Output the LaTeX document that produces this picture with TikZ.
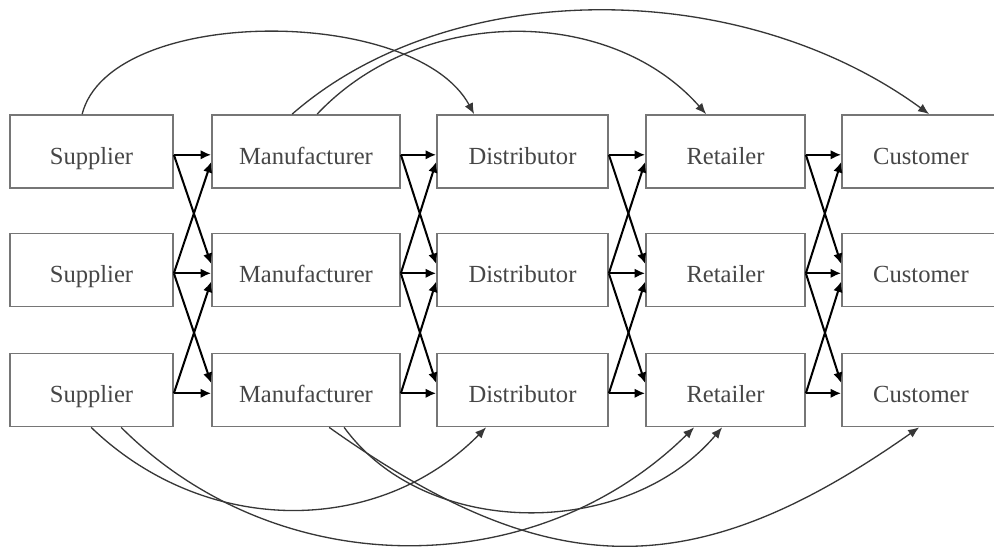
\documentclass[tikz,border=0pt]{standalone}
\usepackage{fontspec}
\setmainfont{Liberation Serif}
\usetikzlibrary{calc,arrows.meta}
\definecolor{boxline}{RGB}{118,118,118}
\definecolor{txt}{RGB}{70,70,70}
\definecolor{arcline}{RGB}{55,55,55}
\tikzset{
  box/.style={draw=boxline, line width=1pt, rectangle, inner sep=0pt,
    minimum height=1.46cm, text height=0.52cm, text depth=0pt,
    font=\fontsize{14}{16}\selectfont, text=txt},
  flow/.style={draw=black, line width=1.15pt, -{Latex[length=2.1mm,width=1.9mm]}},
  arcflow/.style={draw=arcline, line width=0.75pt, -{Latex[length=2.2mm,width=1.8mm]}}
}
\begin{document}
\begin{tikzpicture}[x=0.02cm, y=-0.02cm]
\fill[white] (0,0) rectangle (994,547);
\clip (0,0) rectangle (994,547);
% boxes
\foreach \r/\y in {1/151.5, 2/270, 3/390} {
  \node[box, minimum width=3.26cm] (s\r) at (91.5,\y) {Supplier};
  \node[box, minimum width=3.76cm] (m\r) at (306,\y) {Manufacturer};
  \node[box, minimum width=3.42cm] (d\r) at (522.5,\y) {Distributor};
  \node[box, minimum width=3.18cm] (r\r) at (725.5,\y) {Retailer};
  \node[box, minimum width=3.16cm] (c\r) at (921,\y) {Customer};
}
% short flows between neighbouring columns
\foreach \a/\b in {s/m, m/d, d/r, r/c} {
  \foreach \i in {1,2,3}
    \draw[flow] ($(\a\i.east)+(0,3.3)$) -- ($(\b\i.west)+(0,3.3)$);
  \draw[flow] ($(\a1.east)+(0,3.3)$) -- ($(\b2.west)+(0,-6)$);
  \draw[flow] ($(\a2.east)+(0,3.3)$) -- ($(\b1.west)+(0,10.5)$);
  \draw[flow] ($(\a2.east)+(0,3.3)$) -- ($(\b3.west)+(0,-7)$);
  \draw[flow] ($(\a3.east)+(0,3.3)$) -- ($(\b2.west)+(0,11.5)$);
}
% top arcs
\draw[arcflow] ($(s1.north west)+(73,0)$) .. controls (110,5) and (415,5) .. ($(d1.north west)+(38,0)$);
\draw[arcflow] ($(m1.north west)+(106,0)$) .. controls (420,5) and (610,5) .. ($(r1.north west)+(61,0)$);
\draw[arcflow] ($(m1.north west)+(81,0)$) .. controls (450,-24) and (740,-24) .. ($(c1.north west)+(88,0)$);
% bottom arcs
\draw[arcflow] ($(s3.south west)+(82,0)$) .. controls (205,537) and (378,537) .. ($(d3.south west)+(50,0)$);
\draw[arcflow] ($(s3.south west)+(112,0)$) .. controls (278,584) and (535,584) .. ($(r3.south west)+(49,0)$);
\draw[arcflow] ($(m3.south west)+(133,0)$) .. controls (426,540) and (627,540) .. ($(r3.south west)+(77,0)$);
\draw[arcflow] ($(m3.south west)+(118,0)$) .. controls (551,585) and (695,585) .. ($(c3.south west)+(78,0)$);
\end{tikzpicture}
\end{document}
